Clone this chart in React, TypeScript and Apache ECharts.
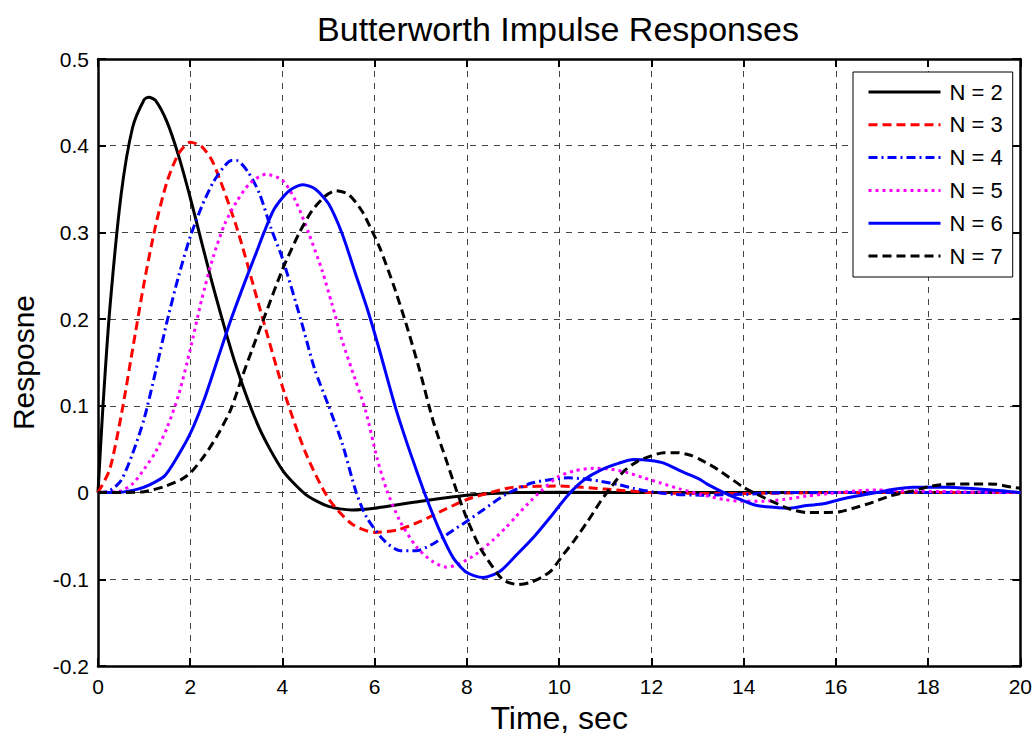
import React, { useEffect, useRef } from "react";
import * as echarts from "echarts";

const FONT = '"Liberation Sans", Arial, Helvetica, sans-serif';

const TITLE = "Butterworth Impulse Responses";
const X_NAME = "Time, sec";
const Y_NAME = "Resposne";
const SERIES_NAMES = ["N = 2", "N = 3", "N = 4", "N = 5", "N = 6", "N = 7"];
const X_MIN = 0, X_MAX = 20, X_STEP = 2;
const Y_MIN = -0.2, Y_MAX = 0.5, Y_STEP = 0.1;

const n2: [number, number][] = [
  [0, 0], [0.1, 0.093], [0.25, 0.208], [0.5, 0.343], [0.75, 0.421], [1.0, 0.453], [1.1, 0.456],
  [1.25, 0.452], [1.5, 0.427], [1.75, 0.388], [2.0, 0.34], [2.5, 0.237], [3.0, 0.145],
  [3.5, 0.074], [4.0, 0.026], [4.5, -0.002], [5.0, -0.016], [5.5, -0.02], [6.0, -0.018],
  [7.0, -0.01], [8.0, -0.003], [9.0, 0], [10, 0.0004], [12, 0], [20, 0],
];
const n3: [number, number][] = [
  [0, 0], [0.25, 0.026], [0.5, 0.088], [0.75, 0.165], [1.0, 0.242], [1.25, 0.308], [1.5, 0.359],
  [1.75, 0.391], [2.0, 0.404], [2.25, 0.399], [2.5, 0.38], [3.0, 0.307], [3.5, 0.214],
  [4.0, 0.122], [4.5, 0.046], [5.0, -0.007], [5.5, -0.036], [6.0, -0.046], [6.5, -0.043],
  [7.0, -0.033], [7.5, -0.02], [8.0, -0.008], [8.5, 0.0], [9.0, 0.006], [10, 0.0075],
  [11, 0.004], [12, 0.0], [13, -0.001], [14, -0.001], [16, 0], [20, 0],
];
const n4: [number, number][] = [
  [0, 0], [0.25, 0.002], [0.5, 0.014], [0.75, 0.045], [1.0, 0.085], [1.25, 0.14], [1.5, 0.198],
  [1.75, 0.25], [2.0, 0.295], [2.25, 0.33], [2.5, 0.358], [2.75, 0.377], [2.9, 0.383],
  [3.0, 0.383], [3.25, 0.37], [3.5, 0.345], [3.75, 0.305], [4.0, 0.27], [4.4, 0.199],
  [4.7, 0.142], [5.0, 0.1], [5.3, 0.056], [5.6, 0.0], [5.83, -0.029], [6.2, -0.055],
  [6.55, -0.067], [6.9, -0.067], [7.27, -0.059], [7.63, -0.046], [8.0, -0.033], [8.35, -0.02],
  [8.78, -0.004], [9.04, 0.003], [9.4, 0.011], [9.83, 0.015], [10.2, 0.017], [10.5, 0.016],
  [10.9, 0.013], [11.3, 0.009], [11.6, 0.005], [12.0, 0.001], [12.5, -0.002], [13.1, -0.003],
  [14.0, -0.002], [15.0, 0], [20, 0],
];
const n5: [number, number][] = [
  [0, 0], [0.5, 0.002], [0.75, 0.01], [1.0, 0.027], [1.25, 0.047], [1.5, 0.075], [1.75, 0.113],
  [2.0, 0.165], [2.25, 0.223], [2.5, 0.272], [2.75, 0.31], [3.0, 0.335], [3.3, 0.357],
  [3.64, 0.367], [4.0, 0.36], [4.28, 0.337], [4.57, 0.299], [4.86, 0.256], [5.07, 0.218],
  [5.29, 0.176], [5.58, 0.13], [5.8, 0.095], [6.05, 0.04], [6.26, 0.003], [6.55, -0.033],
  [6.91, -0.063], [7.27, -0.08], [7.56, -0.086], [7.84, -0.082], [8.2, -0.071], [8.56, -0.055],
  [8.85, -0.04], [9.04, -0.029], [9.32, -0.013], [9.61, 0.002], [9.97, 0.018], [10.33, 0.025],
  [10.76, 0.028], [11.12, 0.027], [11.48, 0.023], [11.84, 0.017], [12.2, 0.011], [12.63, 0.004],
  [13.06, -0.002], [13.57, -0.008], [14.0, -0.01], [14.43, -0.01], [14.86, -0.008],
  [15.37, -0.004], [15.87, -0.001], [16.45, 0.002], [16.9, 0.003], [17.5, 0.002], [18.5, 0.001],
  [20, 0],
];
const n6: [number, number][] = [
  [0, 0], [0.5, 0.0005], [0.86, 0.004], [1.08, 0.008], [1.44, 0.019], [1.73, 0.042],
  [2.01, 0.069], [2.3, 0.107], [2.59, 0.153], [2.88, 0.199], [3.2, 0.245], [3.42, 0.275],
  [3.6, 0.3], [3.8, 0.325], [4.0, 0.34], [4.2, 0.35], [4.45, 0.355], [4.71, 0.35], [5.0, 0.333],
  [5.29, 0.299], [5.58, 0.253], [5.85, 0.21], [6.1, 0.165], [6.44, 0.1], [6.7, 0.057],
  [6.91, 0.025], [7.12, -0.006], [7.41, -0.044], [7.7, -0.075], [7.99, -0.092], [8.35, -0.098],
  [8.71, -0.091], [9.11, -0.07], [9.47, -0.05], [9.83, -0.027], [10.19, -0.003],
  [10.55, 0.015], [10.9, 0.026], [11.3, 0.034], [11.62, 0.038], [11.98, 0.037], [12.27, 0.034],
  [12.63, 0.025], [13.06, 0.015], [13.2, 0.01], [13.57, 0], [13.93, -0.008], [14.29, -0.015],
  [14.65, -0.017], [15.0, -0.018], [15.37, -0.015], [15.73, -0.013], [16.09, -0.008],
  [16.45, -0.004], [16.88, 0], [17.3, 0.004], [17.67, 0.006], [18.39, 0.006], [19.1, 0.004],
  [20, 0],
];
const n7: [number, number][] = [
  [0, 0], [0.5, 0], [1.0, 0.001], [1.44, 0.007], [1.8, 0.015], [2.01, 0.023], [2.3, 0.042],
  [2.59, 0.066], [2.88, 0.096], [3.13, 0.134], [3.35, 0.166], [3.64, 0.207], [3.99, 0.256],
  [4.36, 0.299], [4.64, 0.325], [4.93, 0.342], [5.15, 0.348], [5.43, 0.344], [5.72, 0.325],
  [5.94, 0.302], [6.12, 0.281], [6.41, 0.239], [6.69, 0.193], [6.98, 0.14], [7.27, 0.082],
  [7.56, 0.036], [7.77, 0.003], [7.99, -0.029], [8.28, -0.063], [8.64, -0.092], [8.82, -0.102],
  [9.1, -0.106], [9.35, -0.104], [9.61, -0.098], [9.83, -0.09], [10.04, -0.075], [10.33, -0.055],
  [10.62, -0.033], [10.9, -0.01], [11.12, 0.006], [11.41, 0.025], [11.7, 0.036], [11.98, 0.042],
  [12.27, 0.046], [12.56, 0.046], [12.85, 0.043], [13.06, 0.038], [13.43, 0.027], [14.0, 0.006],
  [14.29, -0.002], [14.65, -0.011], [15.0, -0.019], [15.37, -0.023], [15.73, -0.023],
  [16.09, -0.022], [16.45, -0.017], [16.81, -0.011], [17.17, -0.004], [17.67, 0.002],
  [18.03, 0.007], [18.39, 0.0096], [18.96, 0.01], [19.47, 0.0096], [19.83, 0.006], [20, 0.005],
];

const SERIES_DATA = [n2, n3, n4, n5, n6, n7];
const SERIES_STYLE: { color: string; type: any }[] = [
  { color: "#000000", type: "solid" },
  { color: "#ff0000", type: [9, 5] },
  { color: "#0000ff", type: [9, 4, 2, 4] },
  { color: "#ff00ff", type: [3, 4] },
  { color: "#0000ff", type: "solid" },
  { color: "#000000", type: [9, 5] },
];

export default function App() {
  const ref = useRef<HTMLDivElement>(null);
  useEffect(() => {
    if (!ref.current) return;
    const chart = echarts.init(ref.current, null, { renderer: "svg" });
    const gridLine = { show: true, lineStyle: { color: "#444", width: 1, type: [6, 6] } };
    const frame = { show: true, onZero: false, lineStyle: { color: "#000", width: 2.5 } };
    const tick = { show: true, inside: true, length: 8, lineStyle: { color: "#000", width: 2 } };
    chart.setOption({
      animation: false,
      backgroundColor: "#fff",
      textStyle: { fontFamily: FONT },
      title: {
        text: TITLE,
        left: 553,
        textAlign: "center",
        top: 7,
        textStyle: { fontFamily: FONT, fontSize: 34, fontWeight: "normal", color: "#000" },
      },
      grid: { left: 95, right: 13, top: 59, bottom: 69 },
      legend: {
        orient: "vertical",
        left: 853,
        top: 72,
        padding: [9, 10, 10, 14],
        itemWidth: 72,
        itemHeight: 14,
        itemGap: 10.8,
        backgroundColor: "#fff",
        borderColor: "#000",
        borderWidth: 1,
        borderRadius: 0,
        itemStyle: { opacity: 0, color: "rgba(0,0,0,0)", borderWidth: 0 },
        lineStyle: { width: 3 },
        textStyle: { fontFamily: FONT, fontSize: 22, color: "#000", lineHeight: 22, padding: [0, 0, 0, 4] },
        data: SERIES_NAMES,
      },
      xAxis: [
        {
          type: "value", min: X_MIN, max: X_MAX, interval: X_STEP, position: "bottom",
          name: X_NAME, nameLocation: "middle", nameGap: 36,
          nameTextStyle: { fontFamily: FONT, fontSize: 32, color: "#000" },
          axisLine: frame, axisTick: tick, splitLine: gridLine,
          axisLabel: { fontFamily: FONT, fontSize: 21, color: "#000", margin: 10 },
        },
        {
          type: "value", min: X_MIN, max: X_MAX, interval: X_STEP, position: "top",
          axisLine: frame, axisTick: tick, splitLine: { show: false }, axisLabel: { show: false },
        },
      ],
      yAxis: [
        {
          type: "value", min: Y_MIN, max: Y_MAX, interval: Y_STEP, position: "left",
          name: Y_NAME, nameLocation: "middle", nameGap: 60, nameRotate: 90,
          nameTextStyle: { fontFamily: FONT, fontSize: 30, color: "#000" },
          axisLine: frame, axisTick: tick, splitLine: gridLine,
          axisLabel: { fontFamily: FONT, fontSize: 21, color: "#000", margin: 9 },
        },
        {
          type: "value", min: Y_MIN, max: Y_MAX, interval: Y_STEP, position: "right",
          axisLine: frame, axisTick: tick, splitLine: { show: false }, axisLabel: { show: false },
        },
      ],
      series: SERIES_DATA.map((d, i) => ({
        name: SERIES_NAMES[i],
        type: "line",
        data: d,
        xAxisIndex: 0,
        yAxisIndex: 0,
        symbol: "none",
        showSymbol: false,
        smooth: 0.25,
        lineStyle: { color: SERIES_STYLE[i].color, width: 3, type: SERIES_STYLE[i].type },
        itemStyle: { color: SERIES_STYLE[i].color },
        emphasis: { disabled: true },
      })),
    });
    return () => chart.dispose();
  }, []);
  return (
    <div
      ref={ref}
      style={{ position: "fixed", left: 0, top: 0, width: 1035, height: 739, background: "#fff" }}
    />
  );
}
